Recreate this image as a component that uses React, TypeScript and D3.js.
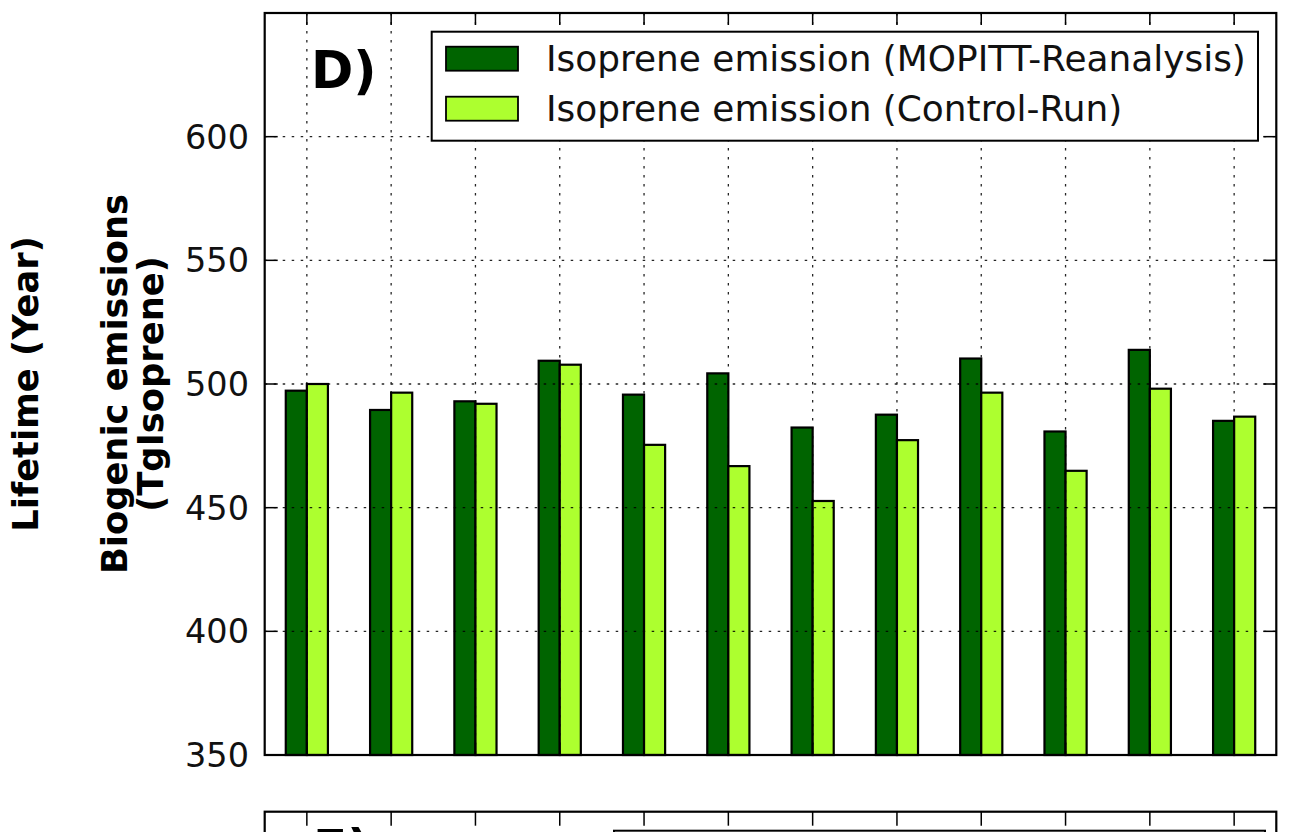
import React from "react";
import * as d3 from "d3";

const categories = ["1", "2", "3", "4", "5", "6", "7", "8", "9", "10", "11", "12"];
const mopittValues = [497.3, 489.5, 493, 509.4, 495.7, 504.3, 482.4, 487.6, 510.3, 480.8, 513.8, 485.1];
const controlValues = [500, 496.5, 492, 507.8, 475.4, 466.8, 452.7, 477.3, 496.5, 464.9, 498.1, 486.8];
const seriesNames = ["Isoprene emission (MOPITT-Reanalysis)", "Isoprene emission (Control-Run)"];
const seriesColors = ["#006400", "#ADFF2F"];
const yTicks = [350, 400, 450, 500, 550, 600];
const yDomain = [350, 650];

const W = 1292;
const H = 832;
const FONT = "'DejaVu Sans', sans-serif";

export default function App() {
  const left = 264.7;
  const right = 1276.3;
  const top = 13;
  const bottom = 755;

  const x = d3.scaleBand<string>().domain(categories).range([left, right]).padding(0);
  const bw = x.bandwidth();
  const sub = d3.scaleBand<number>().domain([0, 1]).range([bw * 0.25, bw * 0.75]).padding(0);
  const y = d3.scaleLinear().domain(yDomain).range([bottom, top]);
  const series = [mopittValues, controlValues];

  const tickLen = 12;
  const panelETop = 811.7;

  return (
    <svg width={W} height={H} style={{ position: "absolute", left: 0, top: 0, background: "#fff" }} fontFamily={FONT}>
      <rect x={0} y={0} width={W} height={H} fill="#fff" />
      {/* bars */}
      {categories.map((c, i) =>
        series.map((vals, s) => {
          const bx = (x(c) as number) + (sub(s) as number);
          const yy = y(vals[i]);
          return (
            <rect key={`${c}-${s}`} x={bx} y={yy} width={sub.bandwidth()} height={bottom - yy}
              fill={seriesColors[s]} stroke="#000" strokeWidth={2.2} />
          );
        })
      )}
      {/* grid */}
      <g stroke="#000" strokeWidth={1.3} strokeDasharray="2.5,6.5" opacity={0.85}>
        {yTicks.filter((t) => t > yDomain[0]).map((t) => (
          <line key={`gy${t}`} x1={left} x2={right} y1={y(t)} y2={y(t)} />
        ))}
        {categories.map((c) => {
          const cx = (x(c) as number) + bw / 2;
          return <line key={`gx${c}`} x1={cx} x2={cx} y1={top} y2={bottom} />;
        })}
      </g>
      {/* ticks */}
      <g stroke="#000" strokeWidth={1.5}>
        {yTicks.map((t) => (
          <g key={`ty${t}`}>
            <line x1={left} x2={left + 13} y1={y(t)} y2={y(t)} />
            <line x1={right} x2={right - 13} y1={y(t)} y2={y(t)} />
          </g>
        ))}
        {categories.map((c) => {
          const cx = (x(c) as number) + bw / 2;
          return (
            <g key={`tx${c}`}>
              <line x1={cx} x2={cx} y1={top} y2={top + tickLen} />
              <line x1={cx} x2={cx} y1={bottom} y2={bottom - tickLen} />
            </g>
          );
        })}
      </g>
      {/* frame */}
      <rect x={left} y={top} width={right - left} height={bottom - top} fill="none" stroke="#000" strokeWidth={2.2} />
      {/* y tick labels */}
      {yTicks.map((t) => (
        <text key={`yl${t}`} x={249} y={y(t)} dy="0.36em" textAnchor="end" fontSize={33.5} fill="#111">
          {t}
        </text>
      ))}
      {/* y axis label */}
      <text transform={`translate(127, ${(top + bottom) / 2}) rotate(-90)`} textAnchor="middle" fontSize={35.3} fontWeight="bold" fill="#000">
        Biogenic emissions
      </text>
      <text transform={`translate(163, ${(top + bottom) / 2}) rotate(-90)`} textAnchor="middle" fontSize={35.3} fontWeight="bold" fill="#000">
        (TgIsoprene)
      </text>
      <text transform={`translate(38, ${(top + bottom) / 2}) rotate(-90)`} textAnchor="middle" fontSize={35.3} fontWeight="bold" fill="#000">
        Lifetime (Year)
      </text>
      {/* panel label */}
      <text x={311} y={88} fontSize={51} fontWeight="bold" fill="#000">D)</text>
      {/* legend */}
      <rect x={431.7} y={31.7} width={1258 - 431.7} height={109} fill="#fff" stroke="#000" strokeWidth={2} />
      {seriesNames.map((n, s) => (
        <g key={n}>
          <rect x={446} y={46.7 + s * 50} width={72} height={24} fill={seriesColors[s]} stroke="#000" strokeWidth={1.8} />
          <text x={546} y={71 + s * 50} fontSize={35.9} fill="#111">{n}</text>
        </g>
      ))}
      {/* panel E (cut off at the bottom edge, as in the reference) */}
      <rect x={left} y={panelETop} width={right - left} height={400} fill="none" stroke="#000" strokeWidth={2.2} />
      <g stroke="#000" strokeWidth={1.5}>
        {categories.map((c) => {
          const cx = (x(c) as number) + bw / 2;
          return <line key={`te${c}`} x1={cx} x2={cx} y1={panelETop} y2={panelETop + 14} />;
        })}
      </g>
      <text x={313} y={865} fontSize={50} fontWeight="bold" fill="#000">E)</text>
      <rect x={614} y={830.7} width={651} height={100} fill="#fff" stroke="#000" strokeWidth={2} />
    </svg>
  );
}
